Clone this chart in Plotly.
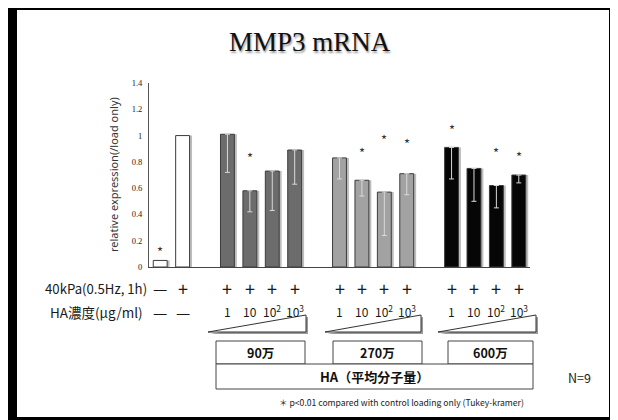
import plotly.graph_objects as go

# ---------------- data ----------------
ctrl_cats = ["負荷なし", "負荷のみ"]
ctrl_vals = [0.05, 1.00]
ctrl_star = [0.12, None]

g90_cats = ["90万-1", "90万-10", "90万-10²", "90万-10³"]
g90_vals = [1.01, 0.58, 0.73, 0.89]
g90_err = [0.29, 0.16, 0.30, 0.26]
g90_star = [None, 0.83, None, None]

g270_cats = ["270万-1", "270万-10", "270万-10²", "270万-10³"]
g270_vals = [0.83, 0.66, 0.57, 0.71]
g270_err = [0.16, 0.12, 0.33, 0.16]
g270_star = [None, 0.87, 0.97, 0.94]

g600_cats = ["600万-1", "600万-10", "600万-10²", "600万-10³"]
g600_vals = [0.91, 0.75, 0.62, 0.70]
g600_err = [0.24, 0.25, 0.17, 0.06]
g600_star = [1.05, None, 0.87, 0.84]

load_row = ["—", "+"] + ["+"] * 4 + ["+"] * 4 + ["+"] * 4
conc_labels = ["1", "10", "10<sup>2</sup>", "10<sup>3</sup>"]
group_names = ["90万", "270万", "600万"]

gaps = [" ", "  ", "   "]
cat_order = ctrl_cats + [gaps[0]] + g90_cats + [gaps[1]] + g270_cats + [gaps[2]] + g600_cats

W, H = 618, 420
OFF = 8  # page body margin
L, R, T, B = 149, 530, 83, 267  # plot area in screen pixels


def px(x):
    return (x - L) / (R - L)


def py(y):
    return (B - y) / (B - T)


SANS = "Noto Sans CJK JP"
SERIF = "Liberation Serif"

fig = go.Figure()

BW = 0.62
series = [
    (ctrl_cats, ctrl_vals, None, "#ffffff"),
    (g90_cats, g90_vals, g90_err, "#6c6c6c"),
    (g270_cats, g270_vals, g270_err, "#a2a2a2"),
    (g600_cats, g600_vals, g600_err, "#060606"),
]

# shadows
for cats, vals, err, col in series:
    fig.add_trace(go.Bar(x=cats, y=vals, width=BW, offset=-BW / 2 + 0.11,
                         marker=dict(color="#bdbdbd", line=dict(width=0)),
                         hoverinfo="skip", showlegend=False))
# bars
for cats, vals, err, col in series:
    kw = {}
    if err is not None:
        kw["error_y"] = dict(type="data", symmetric=False, array=[0] * len(err),
                             arrayminus=err, color="#dadada", thickness=1, width=2.5)
    fig.add_trace(go.Bar(x=cats, y=vals, width=BW, offset=-BW / 2,
                         marker=dict(color=col, line=dict(color="#3c3c3c", width=1)),
                         showlegend=False, **kw))

ann = []


def add_text(x, y, text, size, family=SANS, color="#1a1a1a", xref="paper", yref="paper",
             xanchor="center"):
    ann.append(dict(x=x, y=y, xref=xref, yref=yref, text=text, showarrow=False,
                    xanchor=xanchor, yanchor="middle",
                    font=dict(family=family, size=size, color=color)))


# significance stars
for cats, stars in [(ctrl_cats, ctrl_star), (g90_cats, g90_star),
                    (g270_cats, g270_star), (g600_cats, g600_star)]:
    for c, s in zip(cats, stars):
        if s is not None:
            add_text(c, s, "*", 13, color="#333", xref="x", yref="y")

bar_cats = ctrl_cats + g90_cats + g270_cats + g600_cats
# row 1 : load
for c, t in zip(bar_cats, load_row):
    add_text(c, py(288), t, 18 if t == "+" else 16, xref="x")
# row 2 : concentration
for c in ctrl_cats:
    add_text(c, py(312), "—", 16, xref="x")
for cats in [g90_cats, g270_cats, g600_cats]:
    for c, t in zip(cats, conc_labels):
        add_text(c, py(311), t, 12, xref="x")

# row labels
add_text(px(149), py(288), "40kPa(0.5Hz, 1h)", 13.2, xanchor="right")
add_text(px(145), py(312), "HA濃度(μg/ml)", 13.5, xanchor="right")

# title
ann.append(dict(x=px(310), y=py(42), xref="paper", yref="paper", text="MMP3 mRNA",
                showarrow=False, xanchor="center", yanchor="middle",
                font=dict(family=SERIF, size=27, color="#111", shadow="1px 2px 2px #999")))
# y-axis title
ann.append(dict(x=px(113), y=0.5, xref="paper", yref="paper", textangle=-90,
                xanchor="center", yanchor="middle",
                text="relative expression(/load only)", showarrow=False,
                font=dict(family="Noto Sans", size=11, color="#333")))

shapes = []
# triangles
for x0, x1 in [(208, 306), (325, 421), (438, 536)]:
    shapes.append(dict(type="path", xref="paper", yref="paper",
                       path=f"M {px(x0+2)} {py(334)} L {px(x1+2)} {py(317)} L {px(x1+2)} {py(334)} Z",
                       fillcolor="#9a9a9a", line=dict(width=0)))
    shapes.append(dict(type="path", xref="paper", yref="paper",
                       path=f"M {px(x0)} {py(332)} L {px(x1)} {py(315)} L {px(x1)} {py(332)} Z",
                       fillcolor="#ffffff", line=dict(color="#333", width=1)))

# boxes
boxes = [(216, 305), (333, 422), (448, 533)]
for (x0, x1), name in zip(boxes, group_names):
    shapes.append(dict(type="rect", xref="paper", yref="paper",
                       x0=px(x0), x1=px(x1), y0=py(364), y1=py(341),
                       line=dict(color="#444", width=1), fillcolor="white"))
    add_text(px((x0 + x1) / 2), py(352.5), f"<b>{name}</b>", 12.5, color="#111")
shapes.append(dict(type="rect", xref="paper", yref="paper",
                   x0=px(216), x1=px(533), y0=py(389), y1=py(364),
                   line=dict(color="#444", width=1), fillcolor="white"))
add_text(px(374), py(376.5), "<b>HA（平均分子量）</b>", 13, color="#111")
add_text(px(579), py(377), "N=9", 12.5)
add_text(px(401), py(402),
         "＊ p&lt;0.01 compared with control loading only (Tukey-kramer)", 8.6)

# frame
frame = [(8, 17, 6, 440), (609, 640, 6, 440), (8, 640, 6, 10), (8, 640, 417, 440)]
for x0, x1, y0, y1 in frame:
    shapes.append(dict(type="rect", xref="paper", yref="paper", x0=px(x0), x1=px(x1),
                       y0=py(y1), y1=py(y0), fillcolor="black", line=dict(width=0)))

fig.update_layout(
    width=W, height=H,
    margin=dict(l=L - OFF, r=W - (R - OFF), t=T - OFF, b=H - (B - OFF), pad=0),
    paper_bgcolor="white", plot_bgcolor="white",
    barmode="overlay", bargap=0.38,
    showlegend=False,
    xaxis=dict(type="category", categoryorder="array", categoryarray=cat_order,
               range=[-0.5, len(cat_order) - 0.5], showticklabels=False, ticks="",
               showgrid=False, zeroline=False, showline=True, linecolor="#444",
               linewidth=1),
    yaxis=dict(range=[0, 1.4], dtick=0.2, tickformat="~g", showgrid=False,
               zeroline=False, showline=True, linecolor="#555", linewidth=1, ticks="",
               tickfont=dict(family=SERIF, size=8.5, color="#222"), ticklabelstandoff=4),
    annotations=ann, shapes=shapes,
)

fig.write_html("out.html")
